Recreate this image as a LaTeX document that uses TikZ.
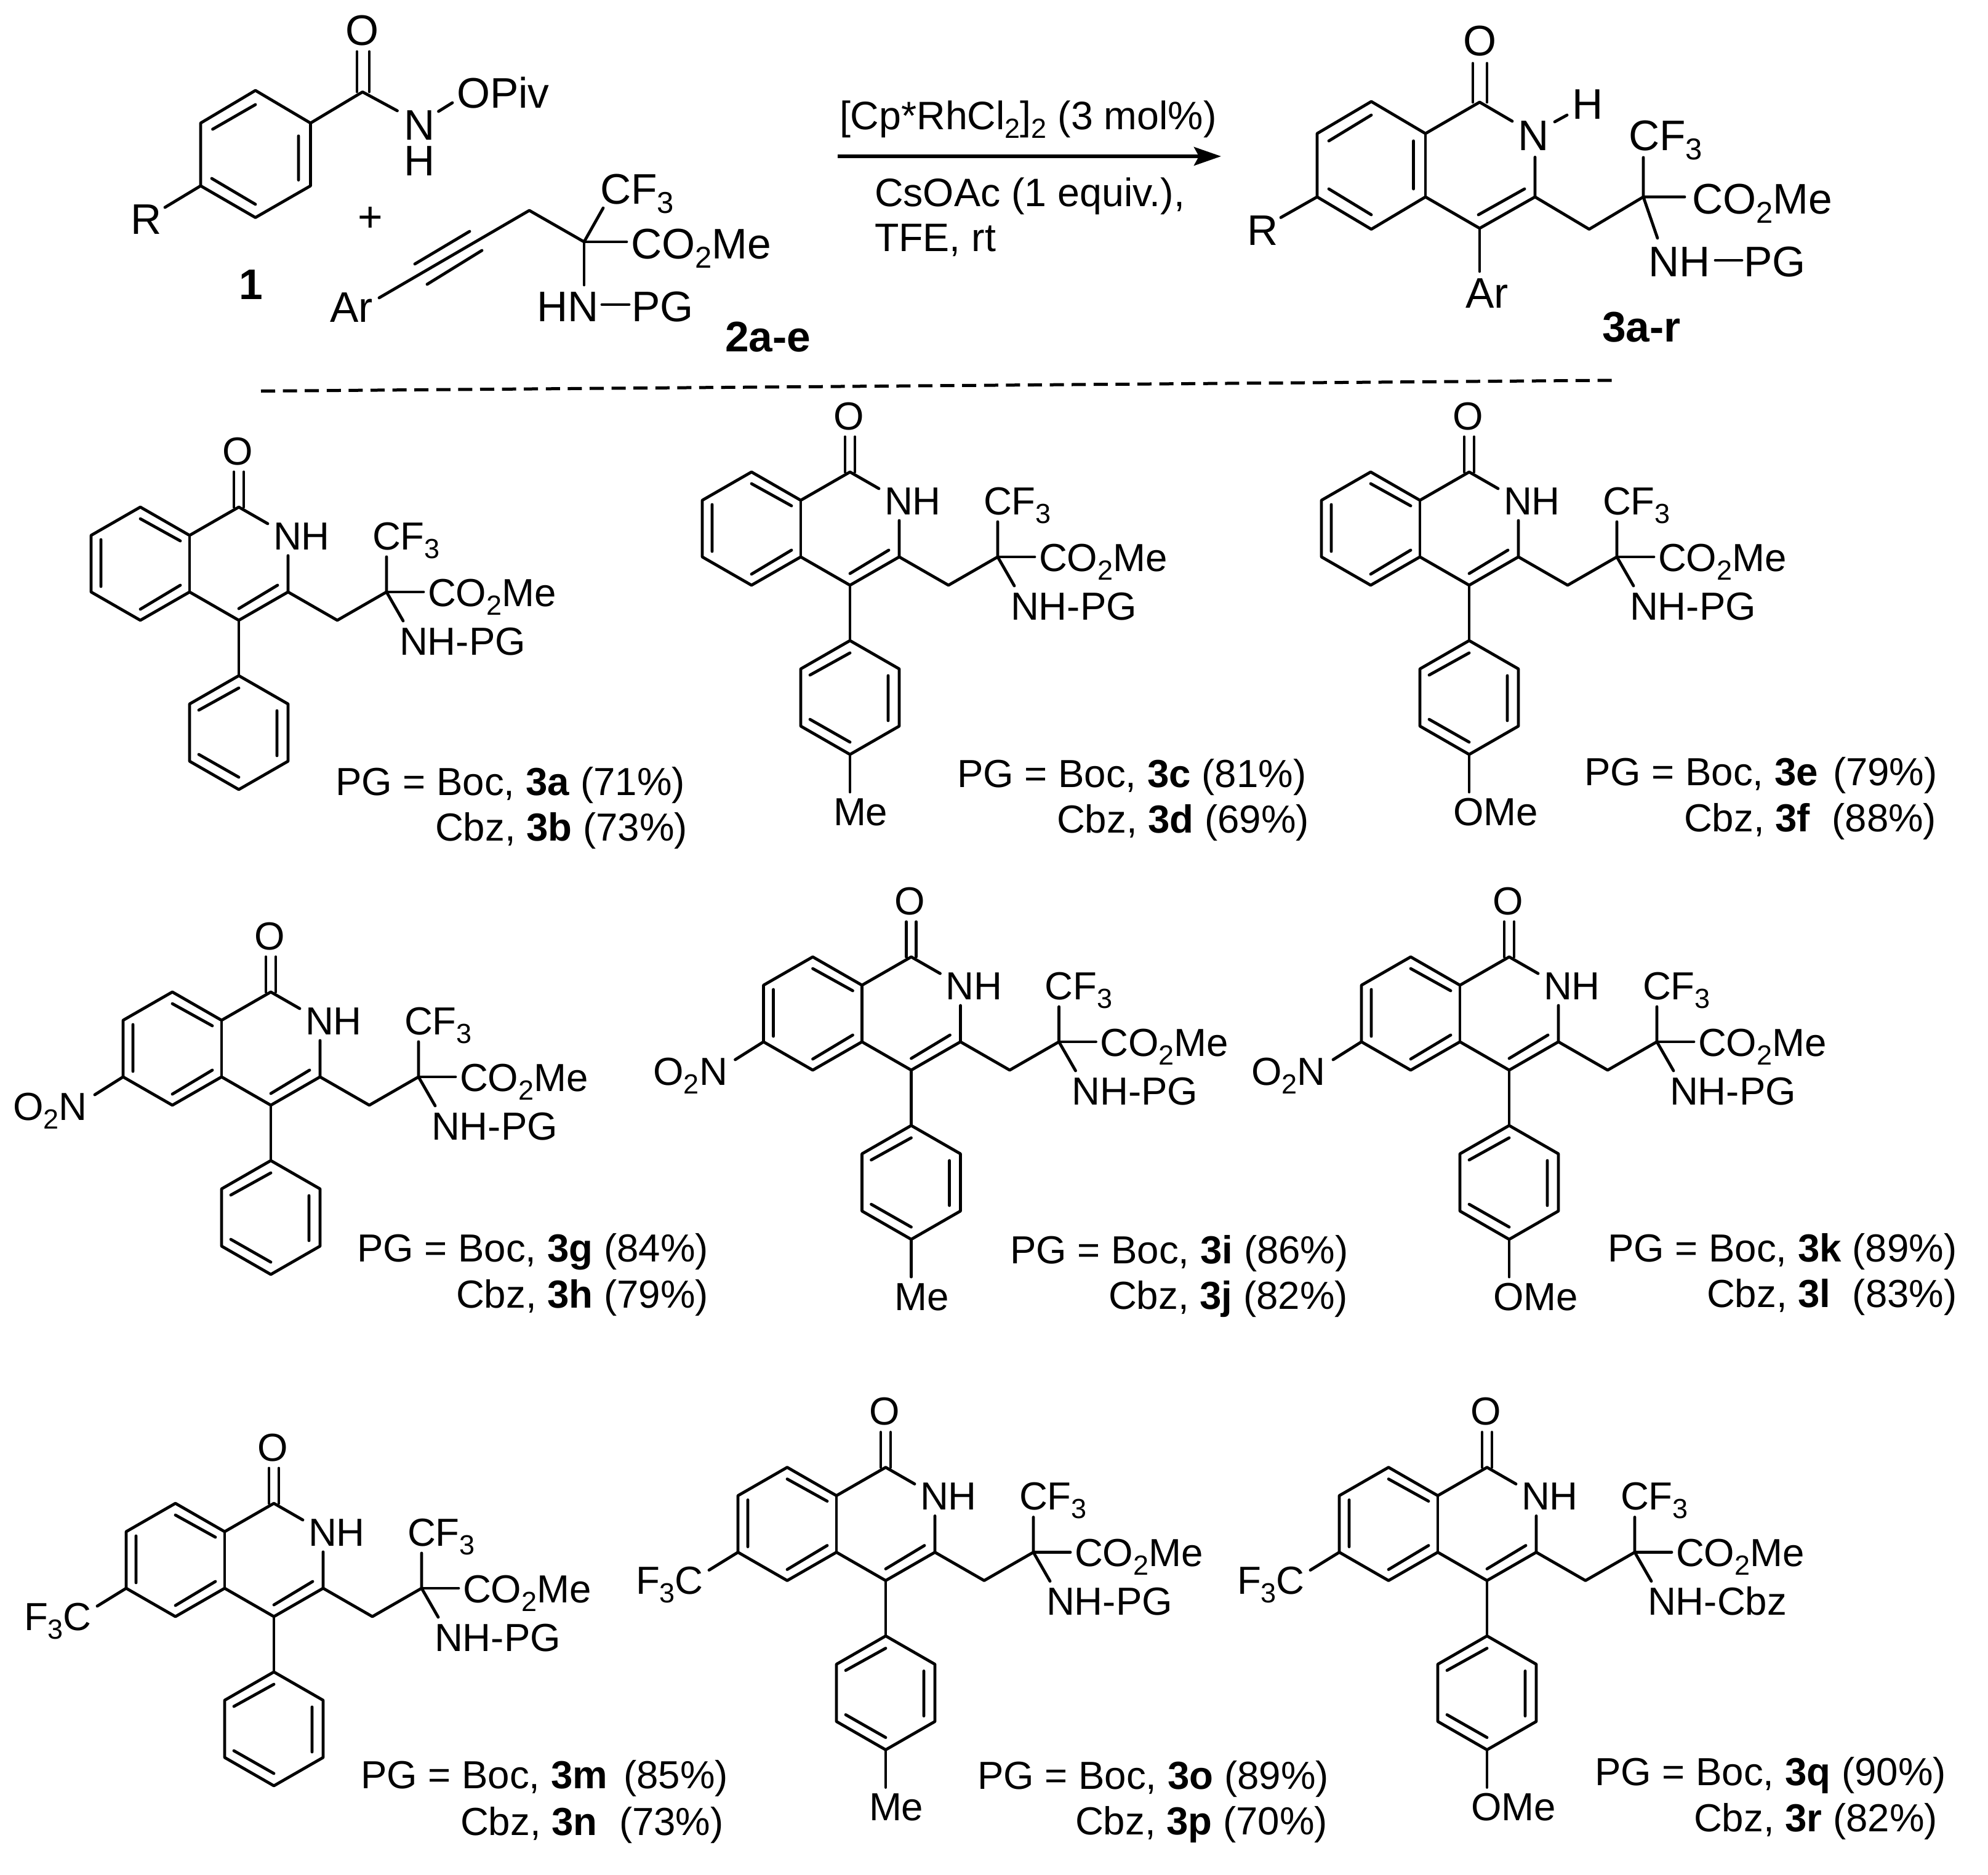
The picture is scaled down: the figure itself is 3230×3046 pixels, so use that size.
\documentclass[tikz,border=0pt]{standalone}
\usepackage{fontspec}
\setmainfont{Liberation Sans}
\usetikzlibrary{arrows.meta}
\newcommand\subs[1]{\raisebox{-14pt}{\fontsize{45}{45}\selectfont #1}}
\newcommand\subb[1]{\raisebox{-15pt}{\fontsize{49}{49}\selectfont #1}}
\tikzset{
  bond/.style={line width=4.8pt,line cap=round,line join=round,black},
  lbl/.style={inner sep=0pt,outer sep=0pt,anchor=base west,font=\fontsize{63.6}{70}\selectfont},
  big/.style={inner sep=0pt,outer sep=0pt,anchor=base west,font=\fontsize{69.5}{76}\selectfont},
  cond/.style={inner sep=0pt,outer sep=0pt,anchor=base west,font=\fontsize{64.5}{70}\selectfont},
}
% core isoquinolone with side chain; local origin = C4
\newcommand\core[4]{%
\begin{scope}[shift={(#2,#3)},name prefix=#1-]
\draw[bond] (47,-157)--(0,-184)--(-80,-138)--(-160,-184)--(-240,-138)--(-240,-46)--(-160,0)--(-80,-46)--(0,0)--(80,-46)--(80,-105);
\draw[bond] (-80,-138)--(-80,-46);
\draw[bond] (80,-46)--(160,0)--(240,-46)--(240,-103);
\draw[bond] (240,-46)--(300,-46);
\draw[bond] (240,-46)--(267,1);
\draw[bond] (0,0)--(0,90);
\draw[bond] (0,90)--(80,136)--(80,229)--(0,275)--(-80,229)--(-80,136)--cycle;
\draw[bond] (-8,-184)--(-8,-241) (8,-184)--(8,-241);
\draw[bond] (-160,-165)--(-95,-129) (-224,-131)--(-224,-55) (-160,-18)--(-95,-57) (0,-19)--(63,-57);
\draw[bond] (-65,146)--(0,110) (62,147)--(62,220) (-65,218)--(0,255);
\node[lbl,anchor=base] (O) at (-2,-253) {O};
\node[lbl] (NH) at (56,-115) {NH};
\node[lbl] (CF) at (217,-115) {CF\subs{3}};
\node[lbl] (CO) at (307,-23) {CO\subs{2}Me};
\node[lbl] (NP) at (261,56) {#4};
\end{scope}}
\newcommand\pme[3]{%
\begin{scope}[shift={(#2,#3)},name prefix=#1-]
\draw[bond] (0,275)--(0,336);
\node[lbl] (Me) at (-27,390) {Me};
\end{scope}}
\newcommand\pome[3]{%
\begin{scope}[shift={(#2,#3)},name prefix=#1-]
\draw[bond] (0,275)--(0,336);
\node[lbl] (OMe) at (-26,390) {OMe};
\end{scope}}
\newcommand\nitro[3]{%
\begin{scope}[shift={(#2,#3)},name prefix=#1-]
\draw[bond] (-240,-46)--(-286,-17);
\node[lbl] (NO) at (-419,24) {O\subs{2}N};
\end{scope}}
\newcommand\tfm[3]{%
\begin{scope}[shift={(#2,#3)},name prefix=#1-]
\draw[bond] (-240,-46)--(-287,-17);
\node[lbl] (FC) at (-406,22) {F\subs{3}C};
\end{scope}}
\newcommand\capt[7]{%
\node[lbl] (#1-a) at (#2-5,#3) {#4};
\node[lbl] (#1-b) at (#5-3,#6) {#7};}
\begin{document}
\begin{tikzpicture}[x=1pt,y=-1pt]
\path[use as bounding box,fill=white] (0,0) rectangle (3230,3046);
% reactant 1
\draw[bond] (415,147)--(504.5,200)--(504.5,302)--(415,353.5)--(326,302)--(326,200)--cycle;
\draw[bond] (345.5,210)--(415,170) (485,221)--(485,292.5) (344,290)--(415,332);
\draw[bond] (504.5,200)--(589,149.4)--(645.5,180);
\draw[bond] (580,84)--(580,149) (600,84)--(600,149);
\draw[bond] (712.5,181)--(735,167);
\draw[bond] (326,302)--(268,337);
\node[big,anchor=base] (o1) at (589,73) {O};
\node[big] (n1) at (656,227) {N};
\node[big] (h1) at (656,285) {H};
\node[big] (piv) at (742,175) {OPiv};
\node[big] (r1) at (212,380) {R};
\node[big,anchor=center] (plus) at (602,356) {+};
\node[big] (one) at (388,486) {\textbf{1}};
% reactant 2
\draw[bond] (616,484)--(860,342)--(949,393)--(980,338);
\draw[bond] (674,429)--(763,376) (694,462)--(783,407);
\draw[bond] (949,393)--(1018,393) (949,393)--(949,463);
\draw[bond] (978,495)--(1022,495);
\node[big] (ar2) at (536,523) {Ar};
\node[big] (cf2) at (975,331) {CF\subb{3}};
\node[big] (co2) at (1025,420) {CO\subb{2}Me};
\node[big] (hn2) at (872,522) {HN};
\node[big] (pg2) at (1026,522) {PG};
\node[big] (lab2) at (1178,571.5) {\textbf{2a-e}};
% arrow and conditions
\draw[line width=6pt,-{Stealth[length=44pt,width=30pt,inset=8pt]}] (1361,254)--(1984,254);
\node[cond] (c1) at (1364,210) {[Cp*RhCl\subs{2}]\subs{2} (3 mol\%)};
\node[cond] (c2) at (1421,335) {CsOAc (1 equiv.),};
\node[cond] (c3) at (1421,408) {TFE, rt};
% product
\draw[bond] (2457,197)--(2404,166)--(2316,217)--(2228,165)--(2140,217)--(2140,320)--(2228,372.5)--(2316,320)--(2404,371)--(2494,320)--(2494,255.5);
\draw[bond] (2316,217)--(2316,320);
\draw[bond] (2393,103)--(2393,166) (2416,103)--(2416,166);
\draw[bond] (2159,229)--(2228,187) (2296.5,229)--(2296.5,307) (2159,307)--(2228,349) (2402,349)--(2477,307);
\draw[bond] (2526,198)--(2546,187);
\draw[bond] (2494,320)--(2582,372.5)--(2670,320)--(2670,256);
\draw[bond] (2670,320)--(2737,320) (2670,320)--(2693,387);
\draw[bond] (2404,371)--(2404,441);
\draw[bond] (2140,320)--(2081,353.5);
\draw[bond] (2787,423)--(2830,423);
\node[big,anchor=base] (o3) at (2404,90.5) {O};
\node[big] (n3) at (2466,244) {N};
\node[big] (h3) at (2554,193) {H};
\node[big] (cf3) at (2646,244) {CF\subb{3}};
\node[big] (co3) at (2749,347) {CO\subb{2}Me};
\node[big] (nh3) at (2678,449.5) {NH};
\node[big] (pg3) at (2833,449.5) {PG};
\node[big] (ar3) at (2381,500) {Ar};
\node[big] (r3) at (2026,398) {R};
\node[big] (lab3) at (2603,555) {\textbf{3a-r}};
% separator
\draw[line width=5pt,dash pattern=on 23pt off 12.6pt] (424,635.5)--(2620,618);
% products
\core{a}{388}{1008}{NH-PG}
\capt{a}{550}{1292}{PG = Boc, \textbf{3a} (71\%)}{710}{1366}{Cbz, \textbf{3b} (73\%)}
\core{c}{1381}{951}{NH-PG}\pme{c}{1381}{951}
\capt{c}{1560}{1279}{PG = Boc, \textbf{3c} (81\%)}{1720}{1353}{Cbz, \textbf{3d} (69\%)}
\core{e}{2387}{951}{NH-PG}\pome{e}{2387}{951}
\capt{e}{2579}{1276}{PG = Boc, \textbf{3e}\hspace{24pt}(79\%)}{2739}{1351}{Cbz, \textbf{3f}\ \ (88\%)}
\core{g}{440}{1796}{NH-PG}\nitro{g}{440}{1796}
\capt{g}{585}{2050}{PG = Boc, \textbf{3g} (84\%)}{744}{2125}{Cbz, \textbf{3h} (79\%)}
\core{i}{1480.5}{1739}{NH-PG}\pme{i}{1480.5}{1739}\nitro{i}{1480.5}{1739}
\capt{i}{1646}{2053}{PG = Boc, \textbf{3i} (86\%)}{1804}{2127}{Cbz, \textbf{3j} (82\%)}
\core{k}{2452}{1739}{NH-PG}\pome{k}{2452}{1739}\nitro{k}{2452}{1739}
\capt{k}{2617}{2050}{PG = Boc, \textbf{3k} (89\%)}{2776}{2124}{Cbz, \textbf{3l}\ \ (83\%)}
\core{m}{445}{2627}{NH-PG}\tfm{m}{445}{2627}
\capt{m}{591}{2906}{PG = Boc, \textbf{3m}\hspace{26pt}(85\%)}{751}{2982}{Cbz, \textbf{3n}\ \ (73\%)}
\core{o}{1439}{2568.5}{NH-PG}\pme{o}{1439}{2568.5}\tfm{o}{1439}{2568.5}
\capt{o}{1593}{2907}{PG = Boc, \textbf{3o} (89\%)}{1750}{2981}{Cbz, \textbf{3p} (70\%)}
\core{q}{2416}{2568.5}{NH-Cbz}\pome{q}{2416}{2568.5}\tfm{q}{2416}{2568.5}
\capt{q}{2596}{2901}{PG = Boc, \textbf{3q} (90\%)}{2755}{2976}{Cbz, \textbf{3r} (82\%)}
\end{tikzpicture}
\end{document}
